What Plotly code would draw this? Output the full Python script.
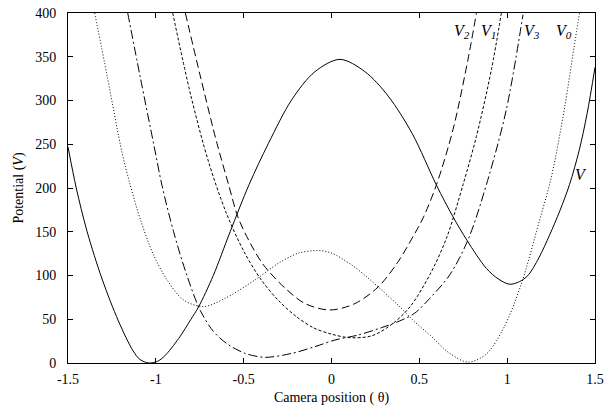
import plotly.graph_objects as go

# Curve V (solid)
v_x = [-1.5, -1.453, -1.391, -1.306, -1.213, -1.13, -1.09, -1.04, -0.99, -0.95, -0.87, -0.80, -0.757, -0.673,
       -0.577, -0.469, -0.359, -0.226, -0.094, 0.048, 0.19, 0.323, 0.46, 0.598, 0.692, 0.772, 0.882, 0.95,
       1.014, 1.07, 1.118, 1.18, 1.241, 1.3, 1.355, 1.41, 1.455, 1.5]
v_y = [247, 200, 150, 96, 48, 14, 4, 0, 2, 8, 28, 50, 64, 100,
       150, 204, 251, 301, 333, 347, 333, 305, 262, 203, 167, 140, 108, 96,
       90, 93, 100, 120, 146, 174, 204, 243, 285, 338]

# Curve V0 (dotted)
v0_x = [-1.348, -1.277, -1.192, -1.149, -1.088, -1.012, -0.936, -0.842, -0.728, -0.605, -0.435, -0.302, -0.189,
        -0.075, 0.001, 0.115, 0.209, 0.285, 0.38, 0.474, 0.56, 0.673, 0.777, 0.88, 0.98, 1.08, 1.18,
        1.251, 1.327, 1.38, 1.412]
v0_y = [400, 328, 240, 206, 164, 123, 95, 72, 64.5, 74, 95, 114, 125.5,
        128.5, 125.5, 112, 97, 83.5, 66, 47, 32, 11, 1, 10, 40, 90, 160,
        212, 292, 360, 400]

# Curve V1 (short dashes)
v1_x = [-0.904, -0.8, -0.7, -0.6, -0.5, -0.4, -0.3, -0.2, -0.1, 0.0, 0.1, 0.228, 0.342, 0.446,
        0.56, 0.655, 0.749, 0.825, 0.91, 0.967]
v1_y = [400, 305, 230, 172, 128, 95, 71, 53, 40, 33, 29, 31, 44, 64,
        101, 143, 204, 259, 335, 400]

# Curve V2 (long dashes)
v2_x = [-0.832, -0.747, -0.652, -0.586, -0.533, -0.46, -0.387, -0.264, -0.151, -0.009, 0.134, 0.266, 0.38,
        0.474, 0.522, 0.598, 0.692, 0.777, 0.825]
v2_y = [400, 328, 251, 204, 167, 136, 112, 85.5, 68, 60.6, 68, 87, 116,
        148, 166, 204, 267, 347, 400]

# Curve V3 (dash-dot)
v3_x = [-1.16, -1.088, -1.012, -0.965, -0.899, -0.823, -0.747, -0.672, -0.591, -0.491, -0.378, -0.226, -0.094,
        0.02, 0.152, 0.285, 0.399, 0.474, 0.56, 0.673, 0.777, 0.882, 0.995, 1.09]
v3_y = [400, 326, 250, 203, 150, 100, 60, 36, 21.5, 11, 6.5, 11, 18.7,
        26.3, 32, 40.4, 49, 57, 74, 100.7, 140.7, 204, 289.5, 398]

x_ticks = [-1.5, -1, -0.5, 0, 0.5, 1, 1.5]
x_tick_text = ["-1.5", "-1", "-0.5", "0", "0.5", "1", "1.5"]
y_ticks = [0, 50, 100, 150, 200, 250, 300, 350, 400]

labels = [("V", "", 1.42, 215), ("V", "2", 0.745, 379), ("V", "1", 0.893, 379),
          ("V", "3", 1.14, 379), ("V", "0", 1.322, 379)]

FONT = "Liberation Serif"

fig = go.Figure()
curves = [
    (v_x, v_y, "solid", "V"),
    (v0_x, v0_y, "1px,2px", "V0"),
    (v1_x, v1_y, "3px,2px", "V1"),
    (v2_x, v2_y, "8px,4px", "V2"),
    (v3_x, v3_y, "9px,3px,2px,3px", "V3"),
]
for xs, ys, dash, name in curves:
    fig.add_trace(go.Scatter(x=xs, y=ys, mode="lines", name=name,
                             line=dict(color="black", width=1, dash=dash, shape="spline", smoothing=0.9),
                             showlegend=False, hoverinfo="skip"))

for base, sub, lx, ly in labels:
    txt = f"<i>{base}</i>" if not sub else f"<i>{base}<sub>{sub}</sub></i>"
    fig.add_annotation(x=lx, y=ly, text=txt, showarrow=False, xref="x", yref="y",
                       font=dict(family=FONT, size=16, color="black"))

axis_common = dict(showgrid=False, zeroline=False, showline=True, linecolor="black", linewidth=1,
                   mirror="ticks", ticks="inside", ticklen=5, tickcolor="black", tickwidth=1,
                   automargin=False, tickfont=dict(family=FONT, size=14, color="black"))

fig.update_xaxes(range=[-1.5, 1.5], tickvals=x_ticks, ticktext=x_tick_text, ticklabelstandoff=3,
                 title=dict(text="Camera position ( θ)", font=dict(family=FONT, size=14, color="black"), standoff=6),
                 **axis_common)
fig.update_yaxes(range=[0, 400], tickvals=y_ticks, ticklabelstandoff=8,
                 title=dict(text="Potential (<i>V</i>)", font=dict(family=FONT, size=14, color="black"), standoff=8),
                 **axis_common)

fig.update_layout(width=605, height=408, margin=dict(l=68, r=10, t=13, b=45),
                  plot_bgcolor="white", paper_bgcolor="white")

fig.write_html("out.html")
